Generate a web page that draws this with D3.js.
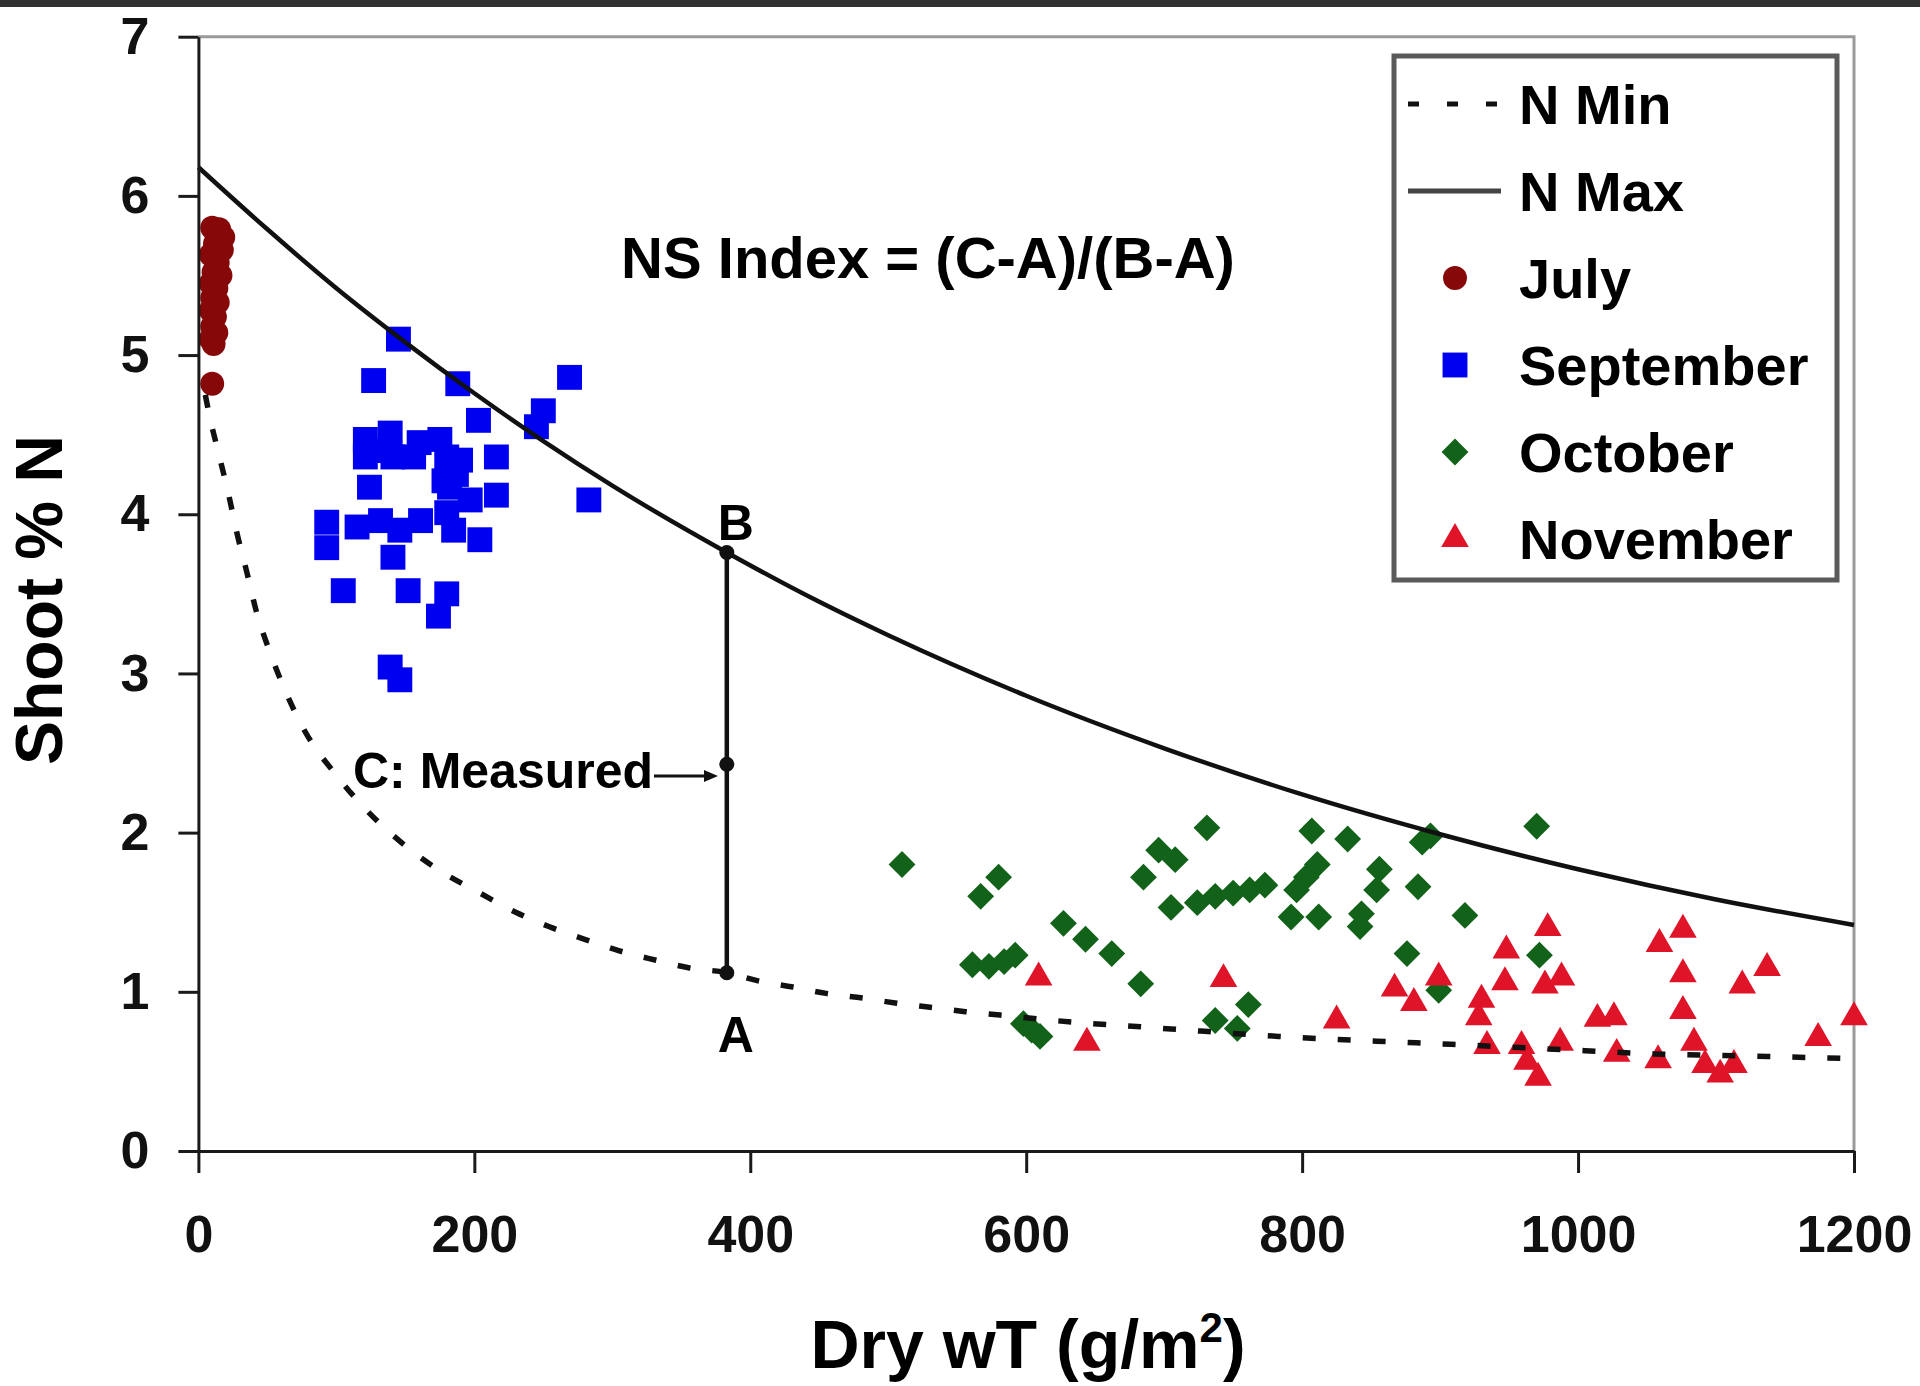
<!DOCTYPE html>
<html>
<head>
<meta charset="utf-8">
<script src="https://cdn.jsdelivr.net/npm/d3@7"></script>
<style>
  html, body { margin: 0; padding: 0; background: #fff; }
  svg { display: block; }
</style>
</head>
<body>
<script>
// Canvas
const width = 1920;
const height = 1386;
const font = "'Liberation Sans', Arial, Helvetica, sans-serif";

// Axis ticks
const xTicks = [0, 200, 400, 600, 800, 1000, 1200];
const yTicks = [0, 1, 2, 3, 4, 5, 6, 7];

// N Max curve: [dry wt, shoot %N]
const nMax = [[0, 6.18], [50, 5.79], [100, 5.42], [150, 5.08], [200, 4.76], [250, 4.46],
  [300, 4.18], [383, 3.76], [450, 3.45], [500, 3.24], [600, 2.86], [700, 2.53],
  [800, 2.24], [900, 1.99], [1000, 1.77], [1100, 1.58], [1200, 1.42]];

// N Min curve
const nMin = [[5, 4.75], [8, 4.62], [15, 4.37], [22, 4.12], [28, 3.88], [35, 3.64],
  [42, 3.39], [52, 3.13], [64, 2.87], [77, 2.64], [100, 2.36], [122, 2.14], [154, 1.89],
  [177, 1.75], [202, 1.63], [230, 1.50], [254, 1.41], [280, 1.33], [304, 1.26],
  [331, 1.20], [356, 1.15], [383, 1.12], [405, 1.07], [431, 1.03], [455, 0.99],
  [482, 0.96], [505, 0.93], [533, 0.90], [556, 0.875], [581, 0.854], [633, 0.81],
  [683, 0.78], [732, 0.75], [783, 0.72], [854, 0.69], [908, 0.67], [1005, 0.63],
  [1055, 0.61], [1105, 0.60], [1155, 0.59], [1200, 0.58]];

// Sample months
const july = [[10, 5.80], [15, 5.79], [18, 5.74], [12, 5.70], [17, 5.66], [9, 5.63],
  [14, 5.58], [11, 5.52], [16, 5.50], [9, 5.45], [13, 5.42], [10, 5.36], [14, 5.33],
  [9, 5.28], [12, 5.24], [10, 5.18], [13, 5.14], [9, 5.10], [11, 5.07], [10, 4.82]];

const september = [[145, 5.10], [127, 4.84], [188, 4.82], [269, 4.86], [203, 4.59],
  [250, 4.65], [245, 4.55], [216, 4.36], [216, 4.12], [283, 4.09], [121, 4.47],
  [121, 4.36], [139, 4.51], [141, 4.36], [156, 4.36], [175, 4.47], [180, 4.36],
  [190, 4.34], [124, 4.17], [178, 4.21], [182, 4.17], [197, 4.09], [160, 4.45],
  [130, 4.40], [187, 4.25], [93, 3.95], [93, 3.79], [115, 3.92], [132, 3.96],
  [146, 3.90], [161, 3.96], [180, 4.01], [185, 3.90], [204, 3.84], [141, 3.73],
  [105, 3.52], [152, 3.52], [180, 3.50], [174, 3.36], [139, 3.04], [146, 2.96]];

const october = [[510, 1.80], [567, 1.60], [580, 1.72], [627, 1.43], [643, 1.33],
  [561, 1.17], [573, 1.16], [584, 1.19], [592, 1.23], [598, 0.80], [604, 0.76], [610, 0.72],
  [731, 2.03], [696, 1.89], [708, 1.83], [685, 1.72], [705, 1.53], [724, 1.56],
  [737, 1.60], [750, 1.62], [762, 1.64], [773, 1.67], [807, 2.01], [833, 1.96],
  [811, 1.80], [803, 1.72], [796, 1.64], [792, 1.47], [812, 1.47], [856, 1.77],
  [854, 1.64], [843, 1.49], [842, 1.41], [887, 1.94], [893, 1.98], [884, 1.66],
  [918, 1.48], [876, 1.24], [899, 1.01], [662, 1.24], [683, 1.05], [737, 0.82],
  [753, 0.77], [761, 0.92], [972, 1.23], [970, 2.04]];

const november = [[609, 1.09], [644, 0.68], [743, 1.08], [825, 0.82], [867, 1.02],
  [881, 0.93], [899, 1.09], [930, 0.95], [928, 0.84], [934, 0.66], [978, 1.40],
  [948, 1.26], [947, 1.06], [988, 1.09], [976, 1.04], [959, 0.66], [963, 0.56],
  [971, 0.46], [987, 0.68], [1014, 0.83], [1026, 0.84], [1028, 0.61], [1058, 0.57],
  [1059, 1.30], [1076, 1.39], [1076, 1.11], [1076, 0.88], [1084, 0.68], [1092, 0.54],
  [1103, 0.48], [1113, 0.54], [1119, 1.04], [1137, 1.15], [1174, 0.71], [1200, 0.84]];

// Worked example points A, B, C at one dry weight
const exampleX = 383;
const pointA = 1.12;
const pointB = 3.76;
const pointC = 2.43;

// Series styling
const series = [
  {name: "July", data: july, color: "#860808", shape: "circle"},
  {name: "September", data: september, color: "#0000f0", shape: "square"},
  {name: "October", data: october, color: "#12621a", shape: "diamond"},
  {name: "November", data: november, color: "#e01428", shape: "triangle"}
];

// Plot area
const plotLeft = 198.4, plotRight = 1854, plotTop = 36.7, plotBottom = 1151;

const x = d3.scaleLinear().domain([0, 1200]).range([plotLeft, plotRight]);
const y = d3.scaleLinear().domain([0, 7]).range([plotBottom, plotTop]);

const svg = d3.create("svg")
  .attr("width", width)
  .attr("height", height)
  .attr("viewBox", [0, 0, width, height])
  .style("font-family", font);

svg.append("rect").attr("width", width).attr("height", height).attr("fill", "#fff");
// dark strip across the top edge
svg.append("rect").attr("width", width).attr("height", 7).attr("fill", "#313131");

// Plot area border, top and right
svg.append("path")
  .attr("d", `M${plotLeft},${plotTop}H${plotRight}V${plotBottom}`)
  .attr("fill", "none")
  .attr("stroke", "#9a9a9a")
  .attr("stroke-width", 3);

// Marker shapes
function marker(shape) {
  if (shape === "circle") return d3.symbol(d3.symbolCircle, 450)();
  if (shape === "square") return d3.symbol(d3.symbolSquare, 620)();
  if (shape === "diamond") return d3.symbol(d3.symbolSquare, 360)();
  return d3.symbol(d3.symbolTriangle, 330)();
}

// Draw each month's points
for (const s of series) {
  svg.append("g")
    .selectAll("path")
    .data(s.data)
    .join("path")
    .attr("d", marker(s.shape))
    .attr("fill", s.color)
    .attr("transform", d => `translate(${x(d[0])},${y(d[1])})` + (s.shape === "diamond" ? " rotate(45)" : ""));
}

// Curves
const line = d3.line().x(d => x(d[0])).y(d => y(d[1])).curve(d3.curveMonotoneX);

svg.append("path")
  .attr("d", line(nMax))
  .attr("fill", "none")
  .attr("stroke", "#111")
  .attr("stroke-width", 4.5);

svg.append("path")
  .attr("d", line(nMin))
  .attr("fill", "none")
  .attr("stroke", "#111")
  .attr("stroke-width", 5.5)
  .attr("stroke-dasharray", "13,22");

// Axes
const xAxis = svg.append("g")
  .attr("transform", `translate(0,${plotBottom})`)
  .call(d3.axisBottom(x).tickValues(xTicks).tickSize(22).tickSizeOuter(0).tickPadding(42).tickFormat(d3.format("d")));
const yAxis = svg.append("g")
  .attr("transform", `translate(${plotLeft},0)`)
  .call(d3.axisLeft(y).tickValues(yTicks).tickSize(20).tickSizeOuter(0).tickPadding(29).tickFormat(d3.format("d")));

for (const g of [xAxis, yAxis]) {
  g.select(".domain").attr("stroke", "#1a1a1a").attr("stroke-width", 3);
  g.selectAll(".tick line").attr("stroke", "#1a1a1a").attr("stroke-width", 3);
  g.selectAll(".tick text")
    .attr("fill", "#111")
    .style("font-family", font)
    .style("font-size", "52px")
    .style("font-weight", "bold");
}

// B to A vertical segment with the three points
svg.append("line")
  .attr("x1", x(exampleX)).attr("x2", x(exampleX))
  .attr("y1", y(pointB)).attr("y2", y(pointA))
  .attr("stroke", "#111")
  .attr("stroke-width", 4.5);

svg.append("g")
  .selectAll("circle")
  .data([pointA, pointB, pointC])
  .join("circle")
  .attr("cx", x(exampleX))
  .attr("cy", d => y(d))
  .attr("r", 7.5)
  .attr("fill", "#111");

svg.append("text")
  .attr("x", x(exampleX) + 9).attr("y", y(pointB) - 12)
  .attr("text-anchor", "middle")
  .style("font-size", "50px").style("font-weight", "bold")
  .text("B");

svg.append("text")
  .attr("x", x(exampleX) + 9).attr("y", y(pointA) + 79)
  .attr("text-anchor", "middle")
  .style("font-size", "50px").style("font-weight", "bold")
  .text("A");

// C label with arrow
svg.append("text")
  .attr("x", 353).attr("y", 788)
  .style("font-size", "50px").style("font-weight", "bold")
  .text("C: Measured");

svg.append("line")
  .attr("x1", 654).attr("x2", 706)
  .attr("y1", 776).attr("y2", 776)
  .attr("stroke", "#111").attr("stroke-width", 3);
svg.append("path")
  .attr("d", "M718,776 L704,770 L704,782 Z")
  .attr("fill", "#111");

// Formula
svg.append("text")
  .attr("x", 928).attr("y", 278)
  .attr("text-anchor", "middle")
  .style("font-size", "58px").style("font-weight", "bold")
  .text("NS Index = (C-A)/(B-A)");

// Axis titles
svg.append("text")
  .attr("transform", "translate(62,600) rotate(-90)")
  .attr("text-anchor", "middle")
  .style("font-size", "66px").style("font-weight", "bold")
  .text("Shoot % N");

const xTitle = svg.append("text")
  .attr("x", 1028).attr("y", 1368)
  .attr("text-anchor", "middle")
  .style("font-size", "68px").style("font-weight", "bold");
xTitle.append("tspan").text("Dry wT (g/m");
xTitle.append("tspan").attr("dy", -26).style("font-size", "42px").text("2");
xTitle.append("tspan").attr("dy", 26).text(")");

// Legend
const legend = svg.append("g");
legend.append("rect")
  .attr("x", 1394).attr("y", 56)
  .attr("width", 443).attr("height", 524)
  .attr("fill", "#fff")
  .attr("stroke", "#5a5a5a")
  .attr("stroke-width", 5);

const legendItems = [
  {name: "N Min", kind: "dash"},
  {name: "N Max", kind: "solid"},
  ...series.map(s => ({name: s.name, kind: "marker", s}))
];

legendItems.forEach((item, i) => {
  const cy = 104 + i * 87;
  if (item.kind === "dash") {
    legend.append("line")
      .attr("x1", 1408).attr("x2", 1499).attr("y1", cy).attr("y2", cy)
      .attr("stroke", "#111").attr("stroke-width", 5)
      .attr("stroke-dasharray", "11,28");
  } else if (item.kind === "solid") {
    legend.append("line")
      .attr("x1", 1408).attr("x2", 1501).attr("y1", cy).attr("y2", cy)
      .attr("stroke", "#444").attr("stroke-width", 5);
  } else {
    legend.append("path")
      .attr("d", marker(item.s.shape))
      .attr("fill", item.s.color)
      .attr("transform", `translate(1455,${cy})` + (item.s.shape === "diamond" ? " rotate(45)" : ""));
  }
  legend.append("text")
    .attr("x", 1519).attr("y", cy)
    .attr("dy", "0.36em")
    .style("font-size", "56px").style("font-weight", "bold")
    .text(item.name);
});

document.body.appendChild(svg.node());
</script>
</body>
</html>
